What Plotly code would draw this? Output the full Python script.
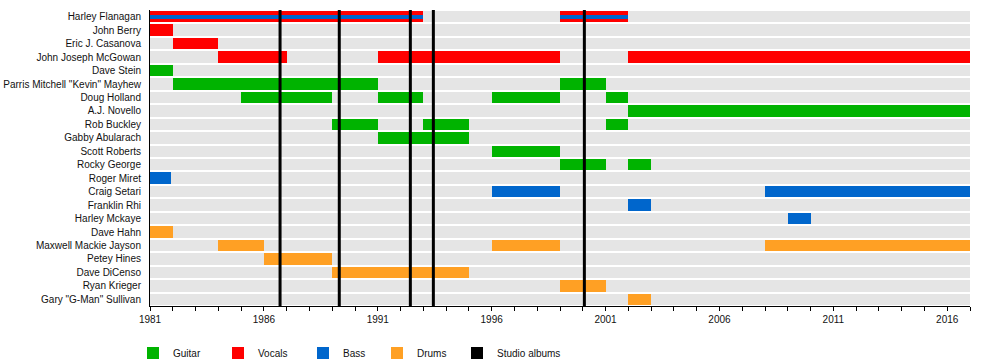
import plotly.graph_objects as go

members = ["Harley Flanagan", "John Berry", "Eric J. Casanova", "John Joseph McGowan",
           "Dave Stein", "Parris Mitchell \"Kevin\" Mayhew", "Doug Holland", "A.J. Novello",
           "Rob Buckley", "Gabby Abularach", "Scott Roberts", "Rocky George", "Roger Miret",
           "Craig Setari", "Franklin Rhi", "Harley Mckaye", "Dave Hahn",
           "Maxwell Mackie Jayson", "Petey Hines", "Dave DiCenso", "Ryan Krieger",
           "Gary \"G-Man\" Sullivan"]

timeline_start = 1981
timeline_end = 2017

guitar_member = ["Dave Stein", "Parris Mitchell \"Kevin\" Mayhew", "Parris Mitchell \"Kevin\" Mayhew",
                 "Doug Holland", "Doug Holland", "Doug Holland", "Doug Holland", "A.J. Novello",
                 "Rob Buckley", "Rob Buckley", "Rob Buckley", "Gabby Abularach", "Scott Roberts",
                 "Rocky George", "Rocky George"]
guitar_start = [1981, 1982, 1999, 1985, 1991, 1996, 2001, 2002, 1989, 1993, 2001, 1991, 1996, 1999, 2002]
guitar_end = [1982, 1991, 2001, 1989, 1993, 1999, 2002, 2017, 1991, 1995, 2002, 1995, 1999, 2001, 2003]

vocals_member = ["Harley Flanagan", "Harley Flanagan", "John Berry", "Eric J. Casanova",
                 "John Joseph McGowan", "John Joseph McGowan", "John Joseph McGowan"]
vocals_start = [1981, 1999, 1981, 1982, 1984, 1991, 2002]
vocals_end = [1993, 2002, 1982, 1984, 1987, 1999, 2017]

bass_member = ["Harley Flanagan", "Harley Flanagan", "Roger Miret", "Craig Setari", "Craig Setari",
               "Franklin Rhi", "Harley Mckaye"]
bass_start = [1981, 1999, 1981, 1996, 2008, 2002, 2009]
bass_end = [1993, 2002, 1981.9, 1999, 2017, 2003, 2010]

drums_member = ["Dave Hahn", "Maxwell Mackie Jayson", "Maxwell Mackie Jayson", "Maxwell Mackie Jayson",
                "Petey Hines", "Dave DiCenso", "Ryan Krieger", "Gary \"G-Man\" Sullivan"]
drums_start = [1981, 1984, 1996, 2008, 1986, 1989, 1999, 2002]
drums_end = [1982, 1986, 1999, 2017, 1989, 1995, 2001, 2003]

studio_albums = [1986.71, 1989.31, 1992.43, 1993.44, 2000.07]

colors = {"Guitar": "#00b300", "Vocals": "#ff0000", "Bass": "#0066cc",
          "Drums": "#ffa024", "Studio albums": "#000000"}

idx = {m: i for i, m in enumerate(members)}
BAR_W = 0.85

fig = go.Figure()

# background rows
fig.add_trace(go.Bar(
    orientation="h", y=list(range(len(members))),
    base=[timeline_start] * len(members),
    x=[timeline_end - timeline_start] * len(members),
    width=BAR_W, marker=dict(color="#e5e5e5", line=dict(width=0)),
    showlegend=False, hoverinfo="skip"))


def add_role(name, mem, st, en, legend, widths=None):
    fig.add_trace(go.Bar(
        orientation="h", name=name, legend=legend,
        y=[idx[m] for m in mem], base=st,
        x=[e - s for s, e in zip(st, en)],
        width=widths if widths is not None else BAR_W,
        marker=dict(color=colors[name], line=dict(width=0))))


add_role("Guitar", guitar_member, guitar_start, guitar_end, "legend")
add_role("Vocals", vocals_member, vocals_start, vocals_end, "legend2")
add_role("Bass", bass_member, bass_start, bass_end, "legend3",
         widths=[0.31 if m == "Harley Flanagan" else BAR_W for m in bass_member])
add_role("Drums", drums_member, drums_start, drums_end, "legend4")

# studio album lines
lx, ly = [], []
for a in studio_albums:
    lx += [a, a, None]
    ly += [-0.5, len(members) - 0.5, None]
fig.add_trace(go.Scatter(x=lx, y=ly, mode="lines", line=dict(color="black", width=3),
                         showlegend=False, hoverinfo="skip"))
# legend entry for studio albums
fig.add_trace(go.Bar(orientation="h", name="Studio albums", legend="legend5",
                     y=[0], base=[timeline_start], x=[0],
                     marker=dict(color="black", line=dict(width=0)), width=0.0001))

PLOT_L, PLOT_W = 150, 820
square_px = [148, 233, 318, 392, 472]


def leg(px):
    return dict(orientation="h", x=(px - 15 - PLOT_L) / PLOT_W, xanchor="left",
                y=-0.159, yanchor="middle", font=dict(size=10), bgcolor="rgba(0,0,0,0)")


fig.update_layout(
    width=1000, height=364,
    margin=dict(l=150, r=30, t=10, b=58, autoexpand=False),
    barmode="overlay", bargap=0,
    plot_bgcolor="white", paper_bgcolor="white",
    font=dict(family="Liberation Sans, Arial, sans-serif", size=10, color="#111"),
    legend=leg(square_px[0]), legend2=leg(square_px[1]), legend3=leg(square_px[2]),
    legend4=leg(square_px[3]), legend5=leg(square_px[4]),
    xaxis=dict(range=[timeline_start, timeline_end], tick0=1981, dtick=5,
               showgrid=False, zeroline=False, showline=True, linecolor="black", linewidth=1,
               ticks="outside", ticklen=4, tickcolor="black",
               minor=dict(dtick=1, tick0=1981, ticks="outside", ticklen=4, tickcolor="black", showgrid=False)),
    yaxis=dict(range=[len(members) - 0.5, -0.5], tickvals=list(range(len(members))),
               ticktext=members, showgrid=False, zeroline=False,
               showline=True, linecolor="black", linewidth=1,
               ticks="", ticklabelstandoff=6, automargin=False),
)

fig.write_html("out.html", config={"displayModeBar": False},
               post_script="document.body.style.margin='0';")
